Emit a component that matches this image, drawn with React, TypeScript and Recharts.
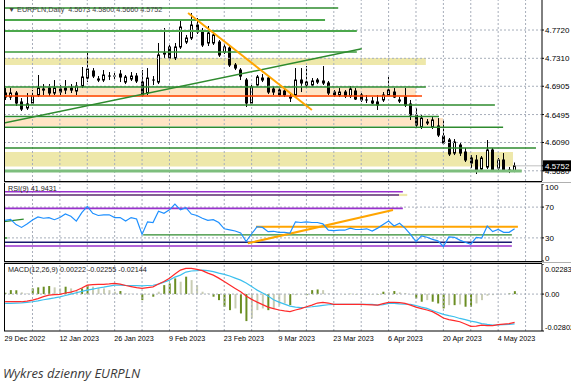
import React from 'react';
import { ComposedChart, Bar, Line, XAxis, YAxis, ReferenceLine, ReferenceArea, Cell } from 'recharts';

// ---------- data ----------
const opens = [
  4.6807, 4.6749, 4.6807, 4.6677, 4.6590, 4.6662, 4.6778, 4.6865, 4.6879, 4.6807,
  4.6865, 4.6850, 4.6879, 4.6836, 4.6908, 4.7024, 4.7126, 4.7010, 4.6995, 4.7053,
  4.7053, 4.7082, 4.6966, 4.7010, 4.7053, 4.6966, 4.6807, 4.6995, 4.6966, 4.7372,
  4.7474, 4.7314, 4.7474, 4.7546, 4.7604, 4.7792, 4.7691, 4.7532, 4.7532, 4.7546,
  4.7401, 4.7459, 4.7213, 4.7140, 4.6995, 4.6662, 4.6923, 4.6995, 4.7024, 4.6865,
  4.6850, 4.6836, 4.6749, 4.6778, 4.6995, 4.6923, 4.6923, 4.6995, 4.6981, 4.6952,
  4.6821, 4.6778, 4.6821, 4.6763, 4.6836, 4.6778, 4.6706, 4.6691, 4.6677, 4.6706,
  4.6778, 4.6821, 4.6706, 4.6749, 4.6648, 4.6488, 4.6314, 4.6372, 4.6314, 4.6329,
  4.6184, 4.6126, 4.5937, 4.6053, 4.5952, 4.5865, 4.5836, 4.5705, 4.5734, 4.5981,
  4.5720, 4.5836, 4.5691, 4.5673,
];
const highs = [
  4.6879, 4.6879, 4.6836, 4.6734, 4.6807, 4.6850, 4.7068, 4.6937, 4.6937, 4.6995,
  4.6923, 4.6995, 4.6937, 4.6966, 4.7184, 4.7387, 4.7169, 4.7053, 4.7140, 4.7111,
  4.7097, 4.7140, 4.7068, 4.7111, 4.7097, 4.7140, 4.7169, 4.7053, 4.7532, 4.7749,
  4.7503, 4.7532, 4.7865, 4.7648, 4.7966, 4.7894, 4.7749, 4.7778, 4.7720, 4.7575,
  4.7517, 4.7488, 4.7242, 4.7169, 4.7024, 4.6923, 4.7068, 4.7082, 4.7053, 4.6908,
  4.6879, 4.6879, 4.6792, 4.7169, 4.7169, 4.7198, 4.7024, 4.7024, 4.7198, 4.6981,
  4.6850, 4.6879, 4.6850, 4.6908, 4.6879, 4.6807, 4.6778, 4.6749, 4.6778, 4.6821,
  4.7039, 4.6879, 4.6749, 4.6879, 4.6706, 4.6590, 4.6488, 4.6430, 4.6459, 4.6444,
  4.6416, 4.6155, 4.6140, 4.6082, 4.6010, 4.5908, 4.5908, 4.5894, 4.6126, 4.6010,
  4.5865, 4.5937, 4.5734, 4.5800,
];
const lows = [
  4.6706, 4.6706, 4.6619, 4.6546, 4.6561, 4.6633, 4.6749, 4.6778, 4.6763, 4.6778,
  4.6778, 4.6792, 4.6807, 4.6778, 4.6879, 4.6966, 4.7024, 4.6966, 4.6966, 4.6995,
  4.7010, 4.6966, 4.6937, 4.6981, 4.6952, 4.6749, 4.6778, 4.6923, 4.6937, 4.7314,
  4.7285, 4.7285, 4.7445, 4.7517, 4.7575, 4.7662, 4.7474, 4.7488, 4.7503, 4.7329,
  4.7372, 4.7184, 4.7140, 4.6995, 4.6604, 4.6633, 4.6894, 4.6966, 4.6792, 4.6778,
  4.6749, 4.6749, 4.6677, 4.6749, 4.6821, 4.6879, 4.6894, 4.6937, 4.6923, 4.6778,
  4.6749, 4.6749, 4.6734, 4.6734, 4.6706, 4.6677, 4.6662, 4.6648, 4.6561, 4.6677,
  4.6763, 4.6734, 4.6662, 4.6604, 4.6416, 4.6314, 4.6285, 4.6343, 4.6285, 4.6169,
  4.6053, 4.5894, 4.5908, 4.5894, 4.5807, 4.5720, 4.5633, 4.5677, 4.5705, 4.5662,
  4.5691, 4.5662, 4.5647, 4.5660,
];
const closes = [
  4.6749, 4.6807, 4.6662, 4.6575, 4.6648, 4.6763, 4.6879, 4.6850, 4.6807, 4.6879,
  4.6821, 4.6879, 4.6850, 4.6908, 4.7039, 4.7155, 4.7053, 4.6995, 4.7068, 4.7039,
  4.7048, 4.7039, 4.7039, 4.7053, 4.6981, 4.6778, 4.7024, 4.6981, 4.7358, 4.7387,
  4.7314, 4.7474, 4.7763, 4.7604, 4.7792, 4.7691, 4.7503, 4.7677, 4.7648, 4.7358,
  4.7474, 4.7213, 4.7169, 4.7053, 4.6662, 4.6894, 4.7039, 4.7024, 4.6821, 4.6821,
  4.6778, 4.6778, 4.6734, 4.6995, 4.6952, 4.6966, 4.6981, 4.6966, 4.6952, 4.6807,
  4.6778, 4.6821, 4.6763, 4.6865, 4.6720, 4.6706, 4.6700, 4.6662, 4.6633, 4.6778,
  4.6850, 4.6749, 4.6691, 4.6633, 4.6488, 4.6343, 4.6444, 4.6387, 4.6416, 4.6198,
  4.6082, 4.5923, 4.6097, 4.5937, 4.5836, 4.5792, 4.5691, 4.5865, 4.5981, 4.5691,
  4.5836, 4.5677, 4.5685, 4.5752,
];
const rsiValues = [
  52.7, 54.1, 47.3, 43.6, 48.2, 53.2, 57.3, 55.5, 56.4, 53.6,
  56.4, 61.0, 58.2, 51.8, 62.8, 71.0, 61.9, 59.1, 60.0, 60.0,
  56.4, 56.4, 51.8, 56.4, 54.6, 34.5, 50.9, 50.0, 64.6, 61.9,
  66.4, 73.8, 66.4, 69.2, 61.0, 59.1, 55.5, 52.7, 53.6, 50.0,
  41.8, 40.4, 39.0, 36.3, 25.3, 35.4, 44.5, 43.6, 38.1, 38.6,
  37.2, 37.2, 36.3, 50.9, 50.0, 50.9, 50.0, 50.0, 48.2, 40.0,
  39.5, 40.0, 40.0, 42.7, 40.9, 40.9, 41.8, 39.0, 42.7, 47.3,
  51.8, 45.4, 49.1, 42.7, 34.5, 25.3, 32.6, 30.8, 28.1, 26.2,
  18.9, 31.3, 30.8, 27.1, 24.4, 21.7, 30.8, 29.9, 45.4, 38.1,
  40.9, 37.2, 37.2, 41.94,
];
const macdHist = [
  0.0010, 0.0030, 0.0030, 0.0013, 0.0005, 0.0043, 0.0051, 0.0056, 0.0061, 0.0051,
  0.0043, 0.0056, 0.0043, 0.0030, 0.0043, 0.0068, 0.0056, 0.0048, 0.0043, 0.0030,
  0.0018, 0.0023, 0.0005, 0.0003, 0.0002, -0.0046, -0.0003, -0.0020, 0.0018, 0.0068,
  0.0081, 0.0119, 0.0094, 0.0132, 0.0106, 0.0068, 0.0018, 0.0005, -0.0020, -0.0046,
  -0.0096, -0.0122, -0.0109, -0.0147, -0.0205, -0.0185, -0.0122, -0.0109, -0.0122, -0.0109,
  -0.0085, -0.0071, -0.0084, -0.0008, -0.0003, -0.0008, 0.0030, 0.0035, 0.0030, 0.0005,
  -0.0003, 0.0000, -0.0002, 0.0002, -0.0002, -0.0003, 0.0000, -0.0002, -0.0003, 0.0018,
  0.0013, 0.0023, 0.0013, 0.0008, -0.0003, -0.0033, -0.0058, -0.0046, -0.0058, -0.0071,
  -0.0109, -0.0084, -0.0084, -0.0079, -0.0096, -0.0096, -0.0071, -0.0046, -0.0013, -0.0008,
  -0.0003, 0.0000, 0.0005, 0.00222,
];
const macdRed = [
  -0.0058, -0.0058, -0.0058, -0.0058, -0.0053, -0.0046, -0.0034, -0.0019, -0.0008, -0.0004,
  -0.0002, 0.0008, 0.0015, 0.0027, 0.0046, 0.0068, 0.0072, 0.0074, 0.0074, 0.0077,
  0.0081, 0.0076, 0.0065, 0.0057, 0.0049, 0.0043, 0.0049, 0.0055, 0.0076, 0.0095,
  0.0121, 0.0152, 0.0182, 0.0195, 0.0195, 0.0188, 0.0178, 0.0159, 0.0144, 0.0121,
  0.0095, 0.0068, 0.0042, 0.0017, -0.0015, -0.0040, -0.0061, -0.0080, -0.0099, -0.0110,
  -0.0121, -0.0128, -0.0133, -0.0121, -0.0110, -0.0096, -0.0084, -0.0068, -0.0063, -0.0068,
  -0.0078, -0.0078, -0.0078, -0.0078, -0.0078, -0.0078, -0.0080, -0.0082, -0.0084, -0.0072,
  -0.0063, -0.0063, -0.0065, -0.0071, -0.0084, -0.0099, -0.0110, -0.0121, -0.0133, -0.0156,
  -0.0182, -0.0194, -0.0201, -0.0210, -0.0227, -0.0245, -0.0243, -0.0235, -0.0239, -0.0239,
  -0.0232, -0.0228, -0.0224, -0.02144,
];
const macdBlue = [
  -0.0071, -0.0070, -0.0068, -0.0067, -0.0063, -0.0058, -0.0051, -0.0043, -0.0036, -0.0029,
  -0.0021, -0.0011, 0.0000, 0.0010, 0.0021, 0.0030, 0.0038, 0.0046, 0.0053, 0.0061,
  0.0068, 0.0068, 0.0066, 0.0065, 0.0064, 0.0063, 0.0065, 0.0067, 0.0076, 0.0091,
  0.0106, 0.0129, 0.0144, 0.0167, 0.0175, 0.0178, 0.0182, 0.0178, 0.0171, 0.0159,
  0.0150, 0.0137, 0.0121, 0.0106, 0.0084, 0.0057, 0.0030, 0.0008, -0.0015, -0.0043,
  -0.0061, -0.0076, -0.0091, -0.0099, -0.0103, -0.0100, -0.0096, -0.0091, -0.0086, -0.0081,
  -0.0078, -0.0078, -0.0078, -0.0078, -0.0078, -0.0078, -0.0078, -0.0078, -0.0084, -0.0080,
  -0.0071, -0.0071, -0.0074, -0.0076, -0.0077, -0.0087, -0.0099, -0.0109, -0.0125, -0.0140,
  -0.0154, -0.0164, -0.0172, -0.0185, -0.0194, -0.0205, -0.0213, -0.0224, -0.0230, -0.0235,
  -0.0234, -0.0232, -0.0230, -0.02255,
];

const dateLabels = ['29 Dec 2022', '12 Jan 2023', '26 Jan 2023', '9 Feb 2023', '23 Feb 2023', '9 Mar 2023', '23 Mar 2023', '6 Apr 2023', '20 Apr 2023', '4 May 2023'];
const dateLabelIdx = [0, 10, 20, 30, 40, 50, 60, 70, 80, 90];
const gridIdx = [5, 10, 15, 20, 25, 30, 35, 40, 45, 50, 55, 60, 65, 70, 75, 80, 85, 90, 95];
const priceTicks = [4.7720, 4.7310, 4.6905, 4.6495, 4.6090, 4.5680];
const lastClose = 4.5752;
const rsiTicks = [100, 70, 30, 0];
const rsiGrid = [70, 30];
const macdTicks = [0.02283, 0, -0.02802];

// drawn objects (in chart coordinates: bar index, price)
const priceZones = [
  { from: -0.2, to: 76.8, lo: 4.7213, hi: 4.7314, color: '#EEE8AA' },
  { from: -0.2, to: 75.0, lo: 4.6749, hi: 4.6879, color: '#FFE4C4' },
  { from: -0.2, to: 79.9, lo: 4.6329, hi: 4.6444, color: '#FFE4C4' },
  { from: -0.2, to: 92.7, lo: 4.5742, hi: 4.5952, color: '#EEE8AA' },
];
const priceLevels = [
  { from: -0.2, to: 60.8, y: 4.8039, color: '#2E8B2E', w: 1.5 },
  { from: -0.2, to: 58.4, y: 4.7865, color: '#4CA84C', w: 2 },
  { from: -0.2, to: 64.2, y: 4.7706, color: '#4CA84C', w: 2 },
  { from: -0.2, to: 64.2, y: 4.7401, color: '#3A9A3A', w: 1.6 },
  { from: -0.2, to: 76.8, y: 4.6894, color: '#2E8B2E', w: 1.5 },
  { from: -0.2, to: 76.1, y: 4.6763, color: '#FF4500', w: 1.5 },
  { from: -0.2, to: 89.4, y: 4.6633, color: '#2E8B2E', w: 1.5 },
  { from: -0.2, to: 79.2, y: 4.6466, color: '#2E8B2E', w: 1.5 },
  { from: -0.2, to: 90.9, y: 4.6310, color: '#2E8B2E', w: 1.5 },
  { from: -0.2, to: 96.9, y: 4.6010, color: '#2E8B2E', w: 1.5 },
  { from: -0.2, to: 94.3, y: 4.5676, color: '#7DBE7D', w: 3 },
  { from: 93, to: 98, y: 4.5752, color: '#C0C0C0', w: 1 },
];
const priceTrends = [
  { x1: -0.2, y1: 4.6372, x2: 65.1, y2: 4.7448, color: '#2E8B2E', w: 1.5 },
  { x1: 33.4, y1: 4.7966, x2: 56.0, y2: 4.6561, color: '#FFA500', w: 2 },
];
const rsiLevels = [
  { from: -0.2, to: 72.6, y: 90, color: '#9932CC', w: 1.6 },
  { from: -0.2, to: 71.9, y: 85.7, color: '#5B2A6E', w: 1.4 },
  { from: -0.2, to: 72.6, y: 68.4, color: '#9932CC', w: 1.6 },
  { from: 45.8, to: 93.6, y: 44.5, color: '#FFA500', w: 2 },
  { from: 25.2, to: 92.5, y: 33.8, color: '#2E8B2E', w: 1.2 },
  { from: -0.2, to: 92.5, y: 24.3, color: '#191970', w: 1.5 },
  { from: -0.2, to: 92.5, y: 19.5, color: '#9932CC', w: 1.6 },
];
const rsiTrends = [
  { x1: 44.3, y1: 23.0, x2: 70.8, y2: 66.2, color: '#FFA500', w: 2 },
  { x1: -0.2, y1: 51.0, x2: 3.4, y2: 54.5, color: '#2E8B2E', w: 1.2 },
  { x1: -0.2, y1: 29.9, x2: 0.4, y2: 29.9, color: '#2E8B2E', w: 1.5 },
];

// ---------- helpers ----------
const X_DOMAIN: [number, number] = [-0.2, 98];
const FONT = '"Liberation Sans", Arial, "DejaVu Sans", sans-serif';
const GRID = '#A7AEBA';

const data = opens.map((o, i) => ({
  i,
  o,
  h: highs[i],
  l: lows[i],
  c: closes[i],
  range: [lows[i], highs[i]],
  rsi: rsiValues[i],
  hist: macdHist[i],
  red: macdRed[i],
  blue: macdBlue[i],
}));

const histColors = macdHist.map((v, i) =>
  i === 0 || Math.abs(v) >= Math.abs(macdHist[i - 1]) ? '#6B8E23' : '#C9CDB4'
);

const Candle = (props: any) => {
  const { x, y, width, height, payload } = props;
  if (x == null || y == null) return null;
  const { o, h, l, c } = payload;
  const top = Math.min(y, y + height);
  const bot = Math.max(y, y + height);
  const span = h - l || 1e-9;
  const py = (v: number) => top + ((h - v) / span) * (bot - top);
  const cx = Math.round(x + width / 2) + 0.5;
  const yo = py(o);
  const yc = py(c);
  const bt = Math.min(yo, yc);
  const bb = Math.max(yo, yc);
  return (
    <g>
      <line x1={cx} x2={cx} y1={top} y2={bot} stroke="#000" strokeWidth={1} />
      {bb - bt < 1 ? (
        <line x1={cx - 1.5} x2={cx + 1.5} y1={bt} y2={bt} stroke="#000" strokeWidth={1} />
      ) : (
        <rect x={cx - 1} y={bt} width={2} height={bb - bt} fill={c >= o ? '#fff' : '#000'} stroke="#000" strokeWidth={1} />
      )}
    </g>
  );
};

const PriceTick = (props: any) => {
  const { x, y, payload } = props;
  const v = payload.value as number;
  if (Math.abs(v - lastClose) < 1e-7) {
    return (
      <g>
        <rect x={x - 2} y={y - 5.5} width={30} height={11} fill="#000" />
        <text x={x} y={y} dy={3} fontSize={8} fontFamily={FONT} fill="#fff">{v.toFixed(4)}</text>
      </g>
    );
  }
  return <text x={x} y={y} dy={3} fontSize={8} fontFamily={FONT} fill="#000">{v.toFixed(4)}</text>;
};

const RsiTick = (props: any) => {
  const { x, y, payload } = props;
  const v = payload.value as number;
  const shift = v === 100 ? 3 : v === 0 ? -3 : 0;
  return <text x={x} y={y + shift} dy={3} fontSize={8} fontFamily={FONT} fill="#000">{String(v)}</text>;
};

const MacdTick = (props: any) => {
  const { x, y, payload } = props;
  const v = payload.value as number;
  const shift = v > 0 ? 4.5 : v < 0 ? -4 : 0;
  const label = v === 0 ? '0.00' : v.toFixed(5);
  return <text x={x} y={y + shift} dy={3} fontSize={7.4} fontFamily={FONT} fill="#000">{label}</text>;
};

const DateTick = (props: any) => {
  const { x, y, payload } = props;
  const k = dateLabelIdx.indexOf(payload.value);
  if (k < 0) return null;
  return <text x={x - 0.5} y={y} dy={5} fontSize={7.2} fontFamily={FONT} fill="#000" textAnchor="start">{dateLabels[k]}</text>;
};

const vGrid = gridIdx.map((g) => (
  <ReferenceLine key={'vg' + g} x={g} stroke={GRID} strokeDasharray="2 2" strokeWidth={1} ifOverflow="hidden" />
));

const abs = (top: number): React.CSSProperties => ({ position: 'absolute', left: 0, top });

export default function App() {
  return (
    <div style={{ position: 'absolute', left: 0, top: 0, width: 571, height: 389, background: '#fff', overflow: 'hidden' }}>
      {/* price panel */}
      <ComposedChart width={571} height={181} data={data} margin={{ top: 0, right: 0, bottom: 0, left: 4 }} style={abs(0)}>
        <XAxis type="number" dataKey="i" domain={X_DOMAIN} hide allowDataOverflow />
        <YAxis
          orientation="right"
          width={29}
          domain={[4.5532, 4.8155]}
          ticks={[...priceTicks, lastClose]}
          interval={0}
          tick={<PriceTick />}
          tickSize={2}
          tickMargin={1}
          tickLine={{ stroke: '#000' }}
          axisLine={{ stroke: '#000' }}
          allowDataOverflow
        />
        {priceZones.map((z, k) => (
          <ReferenceArea key={'pz' + k} x1={z.from} x2={z.to} y1={z.lo} y2={z.hi} fill={z.color} fillOpacity={1} stroke="none" ifOverflow="hidden" />
        ))}
        {vGrid}
        {priceTicks.map((t) => (
          <ReferenceLine key={'hg' + t} y={t} stroke={GRID} strokeDasharray="2 2" ifOverflow="hidden" />
        ))}
        {priceLevels.map((l, k) => (
          <ReferenceLine key={'pl' + k} segment={[{ x: l.from, y: l.y }, { x: l.to, y: l.y }]} stroke={l.color} strokeWidth={l.w} ifOverflow="hidden" />
        ))}
        {priceTrends.map((t, k) => (
          <ReferenceLine key={'pt' + k} segment={[{ x: t.x1, y: t.y1 }, { x: t.x2, y: t.y2 }]} stroke={t.color} strokeWidth={t.w} ifOverflow="hidden" />
        ))}
        <Bar dataKey="range" shape={Candle} barSize={3} isAnimationActive={false} />
      </ComposedChart>

      {/* RSI panel */}
      <ComposedChart width={571} height={81} data={data} margin={{ top: 0, right: 0, bottom: 4, left: 4 }} style={abs(184)}>
        <XAxis type="number" dataKey="i" domain={X_DOMAIN} hide allowDataOverflow />
        <YAxis
          orientation="right"
          width={29}
          domain={[0, 100]}
          ticks={rsiTicks}
          interval={0}
          tick={<RsiTick />}
          tickSize={2}
          tickMargin={1}
          tickLine={{ stroke: '#000' }}
          axisLine={{ stroke: '#000' }}
          allowDataOverflow
        />
        {vGrid}
        {rsiGrid.map((t) => (
          <ReferenceLine key={'rg' + t} y={t} stroke={GRID} strokeDasharray="2 2" ifOverflow="hidden" />
        ))}
        <ReferenceArea x1={71.9} x2={73.4} y1={84.3} y2={87.2} fill="#EEE8AA" fillOpacity={1} stroke="none" ifOverflow="hidden" />
        {rsiLevels.map((l, k) => (
          <ReferenceLine key={'rl' + k} segment={[{ x: l.from, y: l.y }, { x: l.to, y: l.y }]} stroke={l.color} strokeWidth={l.w} ifOverflow="hidden" />
        ))}
        {rsiTrends.map((t, k) => (
          <ReferenceLine key={'rt' + k} segment={[{ x: t.x1, y: t.y1 }, { x: t.x2, y: t.y2 }]} stroke={t.color} strokeWidth={t.w} ifOverflow="hidden" />
        ))}
        <Line type="linear" dataKey="rsi" stroke="#1E90FF" strokeWidth={1.2} dot={false} isAnimationActive={false} />
      </ComposedChart>

      {/* MACD panel */}
      <ComposedChart width={571} height={83} data={data} margin={{ top: 0, right: 0, bottom: 0, left: 4 }} style={abs(264)}>
        <XAxis
          type="number"
          dataKey="i"
          domain={X_DOMAIN}
          ticks={dateLabelIdx}
          interval={0}
          tick={<DateTick />}
          tickSize={3}
          tickMargin={2}
          tickLine={false}
          axisLine={{ stroke: '#000' }}
          height={16}
          allowDataOverflow
        />
        <YAxis
          orientation="right"
          width={29}
          domain={[-0.02802, 0.02283]}
          ticks={macdTicks}
          interval={0}
          tick={<MacdTick />}
          tickSize={2}
          tickMargin={1}
          tickLine={{ stroke: '#000' }}
          axisLine={{ stroke: '#000' }}
          allowDataOverflow
        />
        {vGrid}
        <ReferenceLine y={0} stroke={GRID} strokeDasharray="2 2" ifOverflow="hidden" />
        <Bar dataKey="hist" barSize={2} isAnimationActive={false}>
          {data.map((d, k) => (
            <Cell key={'hc' + k} fill={histColors[k]} />
          ))}
        </Bar>
        <Line type="linear" dataKey="blue" stroke="#3CC0EE" strokeWidth={1.2} dot={false} isAnimationActive={false} />
        <Line type="linear" dataKey="red" stroke="#FF2A2A" strokeWidth={1.2} dot={false} isAnimationActive={false} />
      </ComposedChart>

      {/* frame / separators */}
      <div style={{ position: 'absolute', left: 4, top: 0, width: 1, height: 331, background: '#000' }} />
      <div style={{ position: 'absolute', left: 4, top: 181, width: 538, height: 1, background: '#000' }} />
      <div style={{ position: 'absolute', left: 4, top: 182, width: 567, height: 1, background: '#B0B0B0' }} />
      <div style={{ position: 'absolute', left: 4, top: 261, width: 538, height: 1, background: '#000' }} />
      <div style={{ position: 'absolute', left: 4, top: 262, width: 567, height: 1, background: '#B0B0B0' }} />
      <div style={{ position: 'absolute', left: 4, top: 263, width: 538, height: 1, background: '#000' }} />

      {/* panel captions */}
      <div style={{ position: 'absolute', left: 8, top: 5, fontFamily: FONT, fontSize: 7.2, lineHeight: '9px', color: '#444', whiteSpace: 'nowrap' }}>
        ▼ EURPLN,Daily&nbsp; 4.5673 4.5800 4.5660 4.5752
      </div>
      <div style={{ position: 'absolute', left: 8, top: 184, fontFamily: FONT, fontSize: 7.2, lineHeight: '9px', color: '#222', whiteSpace: 'nowrap' }}>
        RSI(9) 41.9431
      </div>
      <div style={{ position: 'absolute', left: 8, top: 265, fontFamily: FONT, fontSize: 7.2, lineHeight: '9px', color: '#222', whiteSpace: 'nowrap' }}>
        MACD(12,26,9) 0.00222 -0.02255 -0.02144
      </div>

      <div style={{ position: 'absolute', left: 3, top: 365, fontFamily: '"Open Sans", "Noto Sans", sans-serif', fontStyle: 'italic', fontSize: 13, lineHeight: '16px', color: '#3a3a3a', whiteSpace: 'nowrap' }}>
        Wykres dzienny EURPLN
      </div>
    </div>
  );
}
